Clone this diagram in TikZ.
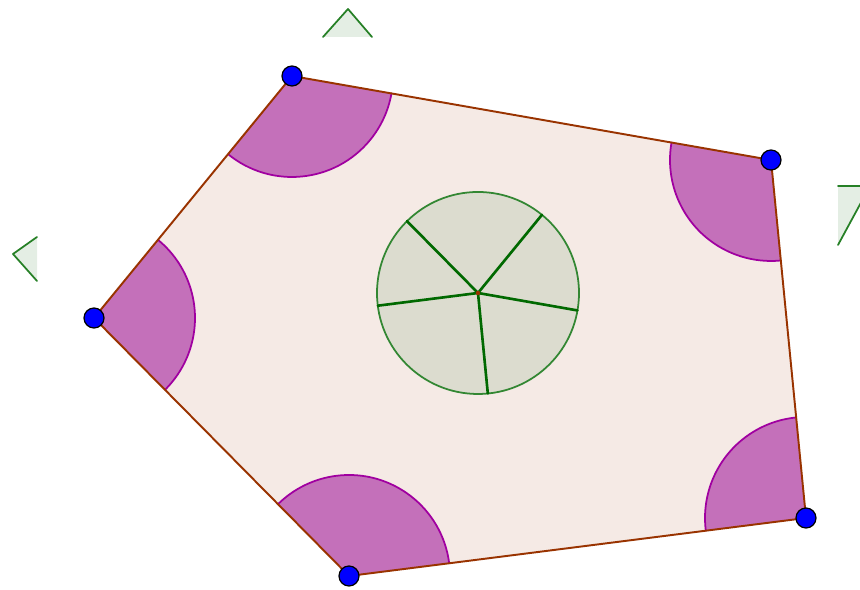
\documentclass[tikz,border=0pt]{standalone}
\usetikzlibrary{calc}
\definecolor{polyedge}{RGB}{153,51,0}
\definecolor{polyfill}{RGB}{245,234,229}
\definecolor{wedgefill}{RGB}{196,112,186}
\definecolor{wedgeline}{RGB}{160,0,160}
\definecolor{discfill}{RGB}{220,220,207}
\definecolor{discline}{RGB}{0,105,0}
\definecolor{markfill}{RGB}{228,238,228}
\begin{document}
\begin{tikzpicture}[x=0.02cm,y=0.02cm,line cap=round,line join=round,
  wedge/.style={fill=wedgefill},
  wedgearc/.style={draw=wedgeline,line width=1pt},
  sideline/.style={draw=polyedge,line width=1.1pt},
  spoke/.style={discline,line width=1.5pt},
  vertexdot/.style={circle,draw=black,fill=blue,inner sep=0pt,minimum size=0.4cm,line width=0.7pt},
  marker/.style={fill=markfill},
  markerline/.style={draw=discline!85!white,line width=1pt}]
\useasboundingbox (0,0) rectangle (860,590);
\clip (0,0) rectangle (860,590);
% pentagon corners
\coordinate (A) at (292,514);
\coordinate (B) at (771,430);
\coordinate (C) at (806,72);
\coordinate (D) at (349,14);
\coordinate (E) at (94,272);
\coordinate (O) at (478,297);
% small markers at the border
\fill[marker] (323,553) -- (348,581) -- (372,553) -- cycle;
\draw[markerline] (323,553) -- (348,581) -- (372,553);
\fill[marker] (37,353) -- (13,336) -- (37,309) -- cycle;
\draw[markerline] (37,353) -- (13,336) -- (37,309);
\fill[marker] (838,404) -- (870,404) -- (838,345) -- cycle;
\draw[markerline] (838,404) -- (870,404) -- (838,345);
% pentagon
\fill[polyfill] (A) -- (B) -- (C) -- (D) -- (E) -- cycle;
% interior angles
\fill[wedge] (A) -- ++(230.71:101) arc (230.71:350.05:101) -- cycle;
\draw[wedgearc] ($(A)+(230.71:101)$) arc (230.71:350.05:101);
\fill[wedge] (B) -- ++(170.05:101) arc (170.05:275.58:101) -- cycle;
\draw[wedgearc] ($(B)+(170.05:101)$) arc (170.05:275.58:101);
\fill[wedge] (C) -- ++(95.58:101) arc (95.58:187.23:101) -- cycle;
\draw[wedgearc] ($(C)+(95.58:101)$) arc (95.58:187.23:101);
\fill[wedge] (D) -- ++(7.23:101) arc (7.23:134.67:101) -- cycle;
\draw[wedgearc] ($(D)+(7.23:101)$) arc (7.23:134.67:101);
\fill[wedge] (E) -- ++(-45.33:101) arc (-45.33:50.71:101) -- cycle;
\draw[wedgearc] ($(E)+(-45.33:101)$) arc (-45.33:50.71:101);
\draw[sideline] (A) -- (B) -- (C) -- (D) -- (E) -- cycle;
% exterior angles gathered round one point
\fill[discfill] (O) circle (101);
\draw[discline!80!white,line width=1pt] (O) circle (101);
\foreach \a in {350.05,275.58,187.23,134.67,50.71}
  \draw[spoke] (O) -- +(\a:101);
\fill[polyedge] (O) circle (2.2);
% corner points
\node[vertexdot] (dA) at (A) {};
\node[vertexdot] (dB) at (B) {};
\node[vertexdot] (dC) at (C) {};
\node[vertexdot] (dD) at (D) {};
\node[vertexdot] (dE) at (E) {};
\end{tikzpicture}
\end{document}
